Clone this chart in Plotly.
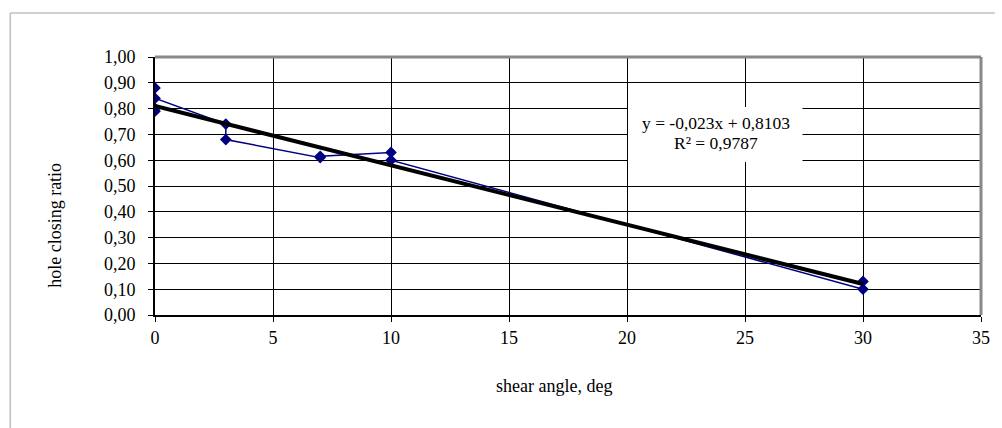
import plotly.graph_objects as go

# Data
shear_angle = [0, 0, 0, 0, 3, 3, 7, 7, 10, 10, 30, 30]
hole_closing_ratio = [0.88, 0.79, 0.80, 0.84, 0.74, 0.68, 0.61, 0.615, 0.63, 0.60, 0.10, 0.13]

trend_slope = -0.023
trend_intercept = 0.8103
trend_r2 = 0.9787
trend_x = [0, 30]

x_ticks = [0, 5, 10, 15, 20, 25, 30, 35]
y_ticks = [round(0.1 * i, 1) for i in range(11)]

FONT = "Liberation Serif"
W, H = 1002, 428
L, R, T, B = 155, 14, 57, 113
PW, PH = W - L - R, H - T - B


def px(xp):
    return (xp - L) / PW


def py(yp):
    return (H - B - yp) / PH


fig = go.Figure()

fig.add_trace(go.Scatter(
    x=shear_angle, y=hole_closing_ratio, mode="lines+markers",
    line=dict(color="#000080", width=1.5),
    marker=dict(symbol="diamond", size=9, color="#000080"),
    showlegend=False, hoverinfo="skip"))

trend_y = [trend_slope * v + trend_intercept for v in trend_x]
fig.add_trace(go.Scatter(
    x=trend_x, y=trend_y, mode="lines",
    line=dict(color="black", width=4),
    showlegend=False, hoverinfo="skip"))

# white label box over the gridlines
fig.add_shape(type="rect", xref="paper", yref="paper",
              x0=px(632), x1=px(808), y0=py(162), y1=py(107),
              fillcolor="white", line=dict(width=0), layer="above")
eq_text = f"y = {trend_slope:.3f}x + {trend_intercept:.4f}".replace(".", ",")
r2_text = f"R² = {trend_r2:.4f}".replace(".", ",")
fig.add_annotation(x=px(721), y=py(123), xref="paper", yref="paper",
                   xanchor="center", yanchor="middle", borderpad=0,
                   text=eq_text, showarrow=False,
                   font=dict(family=FONT, size=17.5, color="black"))
fig.add_annotation(x=px(721), y=py(143), xref="paper", yref="paper",
                   xanchor="center", yanchor="middle", borderpad=0,
                   text=r2_text, showarrow=False,
                   font=dict(family=FONT, size=17.5, color="black"))

# Axis titles
fig.add_annotation(x=px(54), y=py(225), xref="paper", yref="paper",
                   xanchor="center", yanchor="middle",
                   text="hole closing ratio", textangle=-90, showarrow=False,
                   font=dict(family=FONT, size=18, color="black"))
fig.add_annotation(x=px(557), y=py(386), xref="paper", yref="paper",
                   xanchor="center", yanchor="middle",
                   text="shear angle, deg", showarrow=False,
                   font=dict(family=FONT, size=18, color="black"))

# Plot frame: top/right gray, outer light border (top and left)
fig.add_shape(type="line", xref="paper", yref="paper", x0=0, x1=1, y0=1, y1=1,
              line=dict(color="#888888", width=3))
fig.add_shape(type="line", xref="paper", yref="paper", x0=1, x1=1, y0=0, y1=1,
              line=dict(color="#888888", width=3))
fig.add_shape(type="line", xref="paper", yref="paper",
              x0=px(9), x1=px(1002), y0=py(13), y1=py(13),
              line=dict(color="#c0c0c0", width=1.5))
fig.add_shape(type="line", xref="paper", yref="paper",
              x0=px(9), x1=px(9), y0=py(13), y1=py(430),
              line=dict(color="#c0c0c0", width=1.5))

fig.update_layout(
    width=W, height=H,
    margin=dict(l=L, r=R, t=T, b=B),
    paper_bgcolor="white", plot_bgcolor="white",
    separators=", ",
    font=dict(family=FONT, size=18, color="black"),
    xaxis=dict(range=[0, 35], tickvals=x_ticks, showgrid=True, gridcolor="black",
               gridwidth=1, showline=True, linecolor="black", linewidth=2,
               ticks="outside", ticklen=5, tickcolor="black", zeroline=False,
               ticklabelstandoff=0,
               tickfont=dict(family=FONT, size=18, color="black")),
    yaxis=dict(range=[0, 1], tickvals=y_ticks, tickformat=".2f", showgrid=True,
               gridcolor="black", gridwidth=1, showline=True, linecolor="black",
               linewidth=2, ticks="outside", ticklen=5, tickcolor="black",
               zeroline=False, ticklabelstandoff=9,
               tickfont=dict(family=FONT, size=18, color="black")),
)

html = fig.to_html(full_html=True, include_plotlyjs=True,
                   config={"displayModeBar": False})
html = html.replace("<body>", '<body style="margin:0;padding:0;overflow:hidden">', 1)
with open("out.html", "w", encoding="utf-8") as f:
    f.write(html)
